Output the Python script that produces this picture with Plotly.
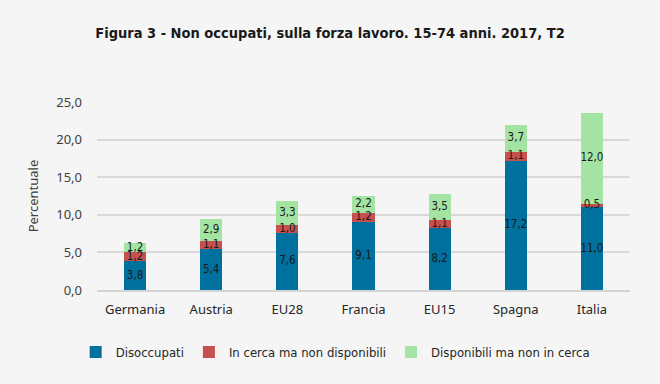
import plotly.graph_objects as go

categories = ["Germania", "Austria", "EU28", "Francia", "EU15", "Spagna", "Italia"]
disoccupati = [3.8, 5.4, 7.6, 9.1, 8.2, 17.2, 11.0]
in_cerca = [1.2, 1.1, 1.0, 1.2, 1.1, 1.1, 0.5]
disponibili = [1.2, 2.9, 3.3, 2.2, 3.5, 3.7, 12.0]
series_names = ["Disoccupati", "In cerca ma non disponibili", "Disponibili ma non in cerca"]
colors = ["#00709e", "#c6504e", "#a3e4a3"]

COND = "DejaVu Sans Condensed, Noto Sans, sans-serif"

fig = go.Figure()
series = [disoccupati, in_cerca, disponibili]
for name, vals, col in zip(series_names, series, colors):
    fig.add_trace(go.Bar(
        x=categories, y=vals, name=name,
        marker=dict(color=col, line=dict(width=0)),
        hoverinfo="skip",
    ))

# value labels drawn on top of all bars, centred on each segment
base = [0.0] * len(categories)
for vals in series:
    mids = [b + v / 2 for b, v in zip(base, vals)]
    fig.add_trace(go.Scatter(
        x=categories, y=mids, mode="text",
        text=[f"{v:.1f}".replace(".", ",") for v in vals],
        textposition="middle center",
        textfont=dict(family=COND, size=11.5, color="#1a1a1a"),
        showlegend=False, hoverinfo="skip", cliponaxis=False,
    ))
    base = [b + v for b, v in zip(base, vals)]

fig.update_layout(
    barmode="stack",
    bargap=0.71,
    width=660, height=384,
    separators=",.",
    paper_bgcolor="#f5f5f5",
    plot_bgcolor="#f5f5f5",
    margin=dict(l=97, r=30, t=102, b=94),
    title=dict(
        text="<b>Figura 3 - Non occupati, sulla forza lavoro. 15-74 anni. 2017, T2</b>",
        x=0.5, xanchor="center", y=0.915, yanchor="middle",
        font=dict(family=COND, size=14.5, color="#1a1a1a"),
    ),
    font=dict(family="Noto Sans", size=12, color="#404040"),
    legend=dict(
        orientation="h", x=-0.04, xanchor="left", y=-0.33, yanchor="middle",
        font=dict(family=COND, size=13, color="#262626"),
        itemwidth=30, traceorder="normal", bgcolor="rgba(0,0,0,0)",
    ),
    xaxis=dict(
        showgrid=False, showline=True, linecolor="#d4d4d4", linewidth=2,
        ticks="", automargin=False, ticklabelstandoff=6,
        tickfont=dict(family="Noto Sans", size=13, color="#262626"),
    ),
    yaxis=dict(
        range=[0, 25], dtick=5, tickformat=".1f", automargin=False,
        showgrid=True, gridcolor="#d9d9d9", gridwidth=1.5,
        zeroline=False, showline=False, ticks="", ticklabelstandoff=14,
        tickfont=dict(family="Noto Sans", size=13, color="#404040"),
        title=dict(text="Percentuale", standoff=14,
                   font=dict(family="Noto Sans", size=13, color="#404040")),
    ),
)

fig.write_html("out.html", config={"displayModeBar": False},
               post_script="document.body.style.margin='0';")
